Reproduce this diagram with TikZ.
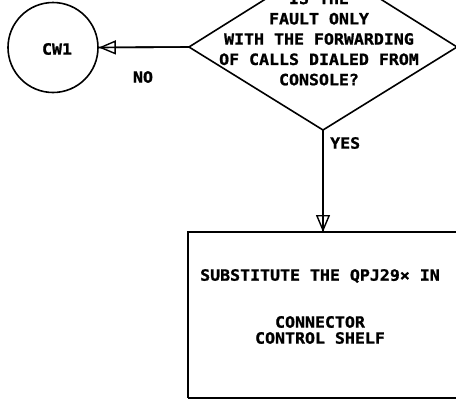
\documentclass[tikz,border=0pt]{standalone}
\usepackage{fontspec}
\setmainfont{DejaVu Sans Mono}[FakeStretch=1.07,BoldFeatures={FakeBold=1.2}]
\usetikzlibrary{arrows.meta,shapes.geometric}
\begin{document}
\begin{tikzpicture}[x=1pt,y=-1pt,
  lbl/.style={font=\fontsize{15.5}{20.3}\selectfont\bfseries, align=center, inner sep=0pt},
  boxlbl/.style={font=\fontsize{15.5}{16}\selectfont\bfseries, align=center, inner sep=0pt},
  ln/.style={line width=1.6pt},
  tip/.style={-{Triangle[open,length=17pt,width=14pt,line width=1.4pt]}, line width=1.6pt}]
\useasboundingbox (0,0) rectangle (456,400);
% decision diamond
\coordinate (dl) at (189,47);
\coordinate (dr) at (457,47);
\coordinate (dt) at (323,-37);
\coordinate (db) at (323,130);
\draw[ln, line join=miter] (dl) -- (dt) -- (dr) -- (db) -- cycle;
\node[lbl] (q) at (319,39) {IS THE\\FAULT ONLY\\WITH THE FORWARDING\\OF CALLS DIALED FROM\\CONSOLE?};
% connector circle
\node[draw, circle, ln, minimum size=90pt, inner sep=0pt] (cw) at (53,47.5) {};
\node[lbl] (cwl) at (57,49) {CW1};
% action box
\coordinate (bt) at (323,232);
\draw[ln] (188,398) -- (188,232) -- (460,232);
\draw[ln] (188,398) -- (460,398);
\node[lbl] (s1) at (320,276) {SUBSTITUTE THE QPJ29× IN};
\node[boxlbl] (s2) at (320,330) {CONNECTOR\\CONTROL SHELF};
% connectors
\draw[ln] (dl) -- (cw.east);
\draw[tip] (dl) -- (cw.east);
\draw[ln] (db) -- (bt);
\draw[tip] (db) -- (bt);
\node[lbl] (no) at (143,77) {NO};
\node[lbl, anchor=west] (yes) at (330,143) {YES};
\end{tikzpicture}
\end{document}
